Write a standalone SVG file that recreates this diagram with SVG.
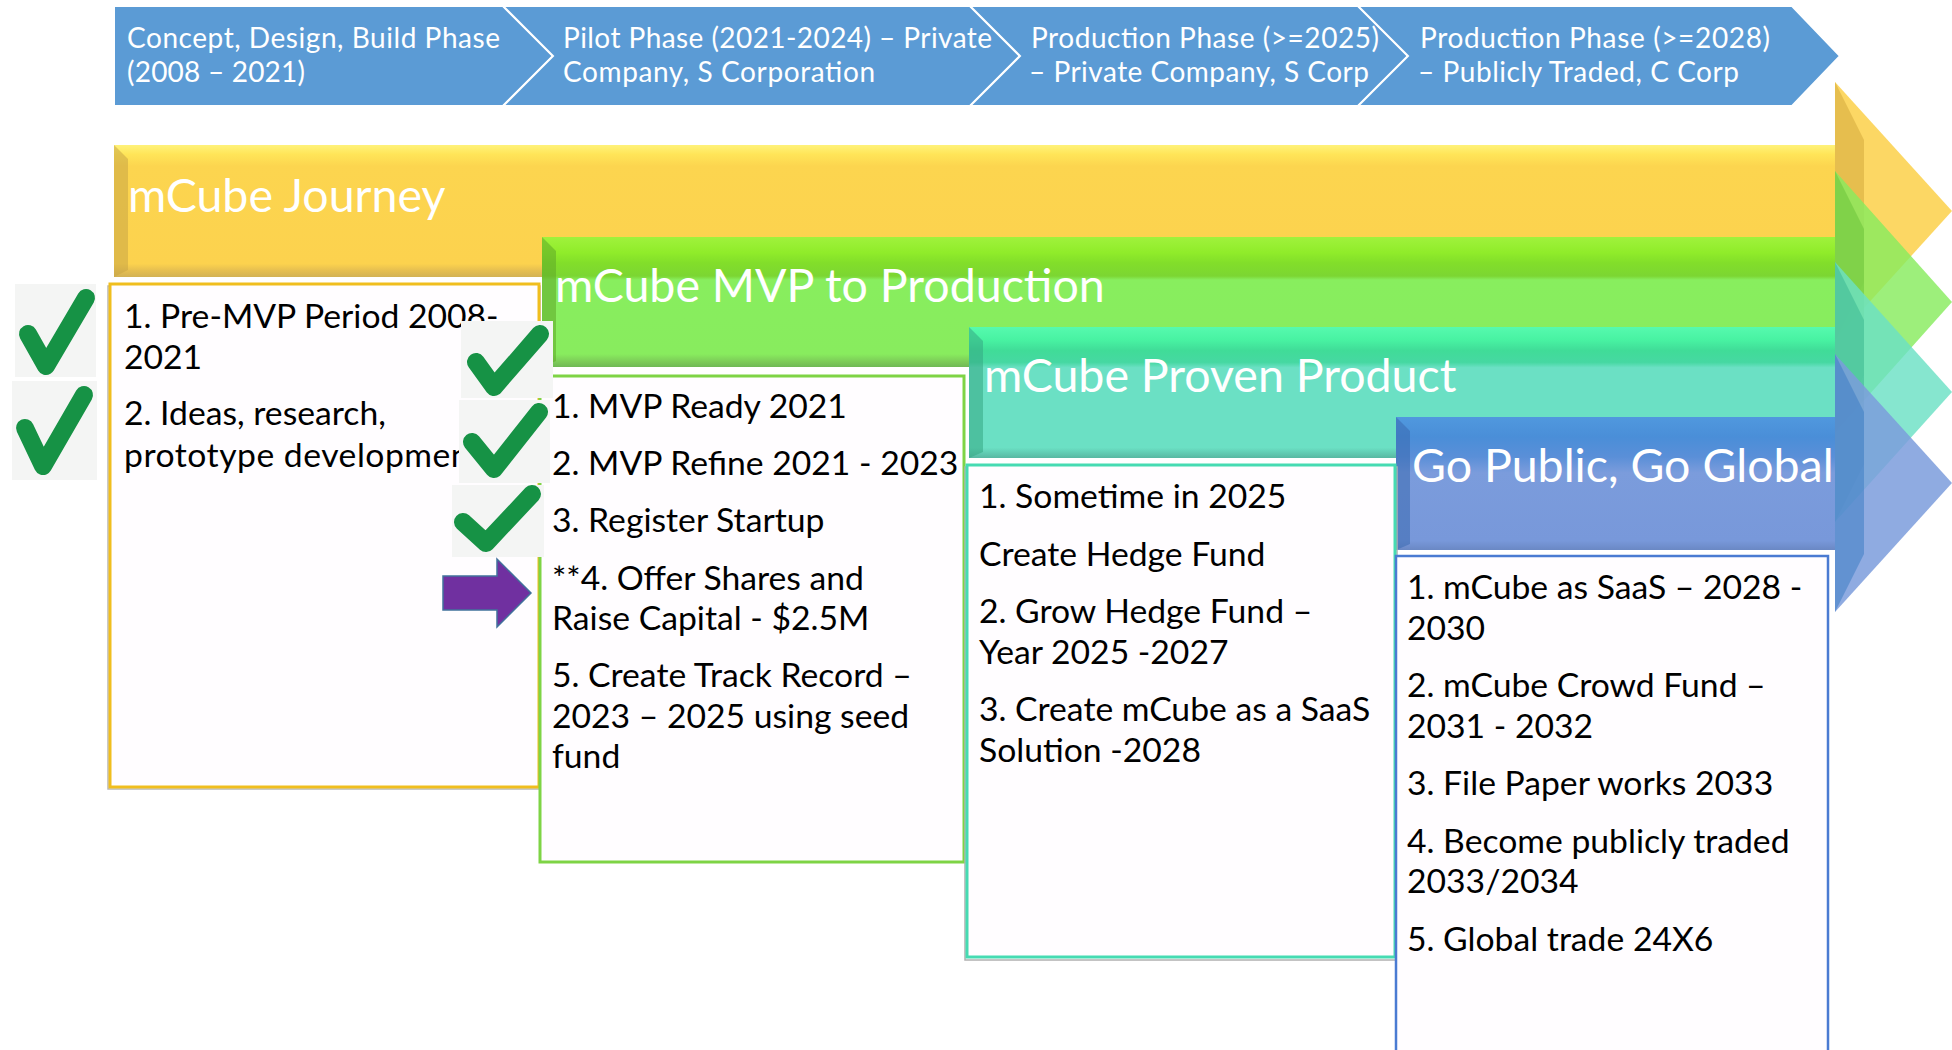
<svg xmlns="http://www.w3.org/2000/svg" width="1952" height="1050" viewBox="0 0 1952 1050">
<defs>
<style>
.hdr{font-family:Lato,"Liberation Sans",sans-serif;font-size:28px;fill:#ffffff}
.ttl{font-family:Lato,"Liberation Sans",sans-serif;font-size:46.5px;fill:#ffffff}
.body{font-family:Lato,"Liberation Sans",sans-serif;font-size:33.7px;fill:#000000}
.seg{fill:#5B9BD5;stroke:#ffffff;stroke-width:2;stroke-linejoin:miter}
.box{fill:#FFFDFF}
.chkbg{fill:#F4F5F4}
.chk{fill:none;stroke:#169245;stroke-width:18;stroke-linecap:round;stroke-linejoin:round}
.facet{opacity:0.55}
</style>
<linearGradient id="gY" x1="0" y1="0" x2="0" y2="1">
<stop offset="0" stop-color="#FFF27A"/><stop offset="0.07" stop-color="#FFE558"/><stop offset="0.16" stop-color="#FCD54F"/><stop offset="0.9" stop-color="#FCD24E"/><stop offset="0.95" stop-color="#E6BF50"/><stop offset="1" stop-color="#D2B255"/>
</linearGradient>
<linearGradient id="gG" x1="0" y1="0" x2="0" y2="1">
<stop offset="0" stop-color="#A0F23C"/><stop offset="0.12" stop-color="#90EC2A"/><stop offset="0.2" stop-color="#82DE2A"/><stop offset="0.3" stop-color="#7CD632"/><stop offset="0.33" stop-color="#88EE5E"/><stop offset="0.9" stop-color="#88EC5E"/><stop offset="0.96" stop-color="#7CCB58"/><stop offset="1" stop-color="#6FB955"/>
</linearGradient>
<linearGradient id="gT" x1="0" y1="0" x2="0" y2="1">
<stop offset="0" stop-color="#56FAAE"/><stop offset="0.1" stop-color="#48F2A2"/><stop offset="0.18" stop-color="#40DC98"/><stop offset="0.27" stop-color="#46D8A2"/><stop offset="0.31" stop-color="#6BE0C4"/><stop offset="0.92" stop-color="#6BE0C4"/><stop offset="1" stop-color="#58B8A2"/>
</linearGradient>
<linearGradient id="gB" x1="0" y1="0" x2="0" y2="1">
<stop offset="0" stop-color="#5098DE"/><stop offset="0.15" stop-color="#4A8ED8"/><stop offset="0.3" stop-color="#5A8FD8"/><stop offset="0.42" stop-color="#7B9CDC"/><stop offset="0.93" stop-color="#7898DA"/><stop offset="1" stop-color="#6A88C4"/>
</linearGradient>
</defs>
<rect width="1952" height="1050" fill="#ffffff"/>

<g id="phase-header">
<polygon class="seg" points="114,6 503,6 553,56 503,106 114,106"/>
<polygon class="seg" points="503,6 970,6 1020,56 970,106 503,106 553,56"/>
<polygon class="seg" points="970,6 1358,6 1408,56 1358,106 970,106 1020,56"/>
<polygon class="seg" points="1358,6 1792,6 1840,56 1792,106 1358,106 1408,56"/>
<text class="hdr" x="127" y="48" textLength="373">Concept, Design, Build Phase</text>
<text class="hdr" x="127" y="82" textLength="178">(2008 – 2021)</text>
<text class="hdr" x="563" y="48" textLength="429">Pilot Phase (2021-2024) – Private</text>
<text class="hdr" x="563" y="82" textLength="312">Company, S Corporation</text>
<text class="hdr" x="1031" y="48" textLength="348">Production Phase (&gt;=2025)</text>
<text class="hdr" x="1029" y="82" textLength="340">– Private Company, S Corp</text>
<text class="hdr" x="1420" y="48" textLength="350">Production Phase (&gt;=2028)</text>
<text class="hdr" x="1418" y="82" textLength="321">– Publicly Traded, C Corp</text>
</g>

<g id="arrow-journey">
<rect x="114" y="145" width="1721" height="132" fill="url(#gY)"/>
<polygon class="facet" points="114,145 128,159 128,270 114,277" fill="#C9A545"/>
<polygon points="1835,82 1952,211 1835,340" fill="#FCD24E" opacity="0.88"/>
<polygon class="facet" points="1835,82 1864,140 1864,282 1835,340" fill="#D4A93C"/>
<text class="ttl" x="128" y="212">mCube Journey</text>
</g>

<g id="arrow-mvp">
<rect x="542" y="237" width="1293" height="130" fill="url(#gG)"/>
<polygon class="facet" points="542,237 556,251 556,361 542,367" fill="#5FA828"/>
<polygon points="1835,171 1952,302 1835,433" fill="#88EC5E" opacity="0.82"/>
<polygon class="facet" points="1835,171 1864,229 1864,375 1835,433" fill="#6CC43A"/>
<text class="ttl" x="555" y="302">mCube MVP to Production</text>
</g>

<g id="arrow-proven">
<rect x="969" y="327" width="866" height="131" fill="url(#gT)"/>
<polygon class="facet" points="969,327 983,341 983,452 969,458" fill="#34A884"/>
<polygon points="1835,262 1952,392 1835,522" fill="#6BE0C4" opacity="0.82"/>
<polygon class="facet" points="1835,262 1864,320 1864,464 1835,522" fill="#3CB894"/>
<text class="ttl" x="984" y="392">mCube Proven Product</text>
</g>

<g id="arrow-public">
<rect x="1396" y="417" width="439" height="133" fill="url(#gB)"/>
<polygon class="facet" points="1396,417 1410,431 1410,544 1396,550" fill="#3A6AB0"/>
<polygon points="1835,354 1952,483 1835,612" fill="#7B9CDC" opacity="0.85"/>
<polygon class="facet" points="1835,354 1864,412 1864,554 1835,612" fill="#3E7EC4"/>
<text class="ttl" x="1412" y="482">Go Public, Go Global</text>
</g>

<g id="box-journey">
<rect x="108" y="286" width="432" height="503" fill="none" stroke="#B8B8B8" stroke-width="1.5"/>
<rect class="box" x="110" y="284" width="429" height="503" stroke="#F0BE1E" stroke-width="3"/>
<text class="body" x="124" y="328">1. Pre-MVP Period 2008-</text>
<text class="body" x="124" y="369">2021</text>
<text class="body" x="124" y="425">2. Ideas, research,</text>
<text class="body" x="124" y="467" textLength="358">prototype development</text>
</g>

<g id="box-mvp">
<rect class="box" x="540" y="376" width="424" height="486" stroke="#7ED445" stroke-width="3"/>
<text class="body" x="552" y="418">1. MVP Ready 2021</text>
<text class="body" x="552" y="475">2. MVP Refine 2021 - 2023</text>
<text class="body" x="552" y="532">3. Register Startup</text>
<text class="body" x="552" y="590">**4. Offer Shares and</text>
<text class="body" x="552" y="630">Raise Capital - $2.5M</text>
<text class="body" x="552" y="687">5. Create Track Record –</text>
<text class="body" x="552" y="728">2023 – 2025 using seed</text>
<text class="body" x="552" y="768">fund</text>
</g>

<g id="box-proven">
<rect x="965" y="467" width="432" height="493" fill="none" stroke="#B0B0B0" stroke-width="1.5"/>
<rect class="box" x="967" y="465" width="428" height="492" stroke="#46DBB2" stroke-width="3"/>
<text class="body" x="979" y="508">1. Sometime in 2025</text>
<text class="body" x="979" y="566">Create Hedge Fund</text>
<text class="body" x="979" y="623">2. Grow Hedge Fund –</text>
<text class="body" x="979" y="664">Year 2025 -2027</text>
<text class="body" x="979" y="721">3. Create mCube as a SaaS</text>
<text class="body" x="979" y="762">Solution -2028</text>
</g>

<g id="box-public">
<rect class="box" x="1396" y="556" width="432" height="510" stroke="#4A7BD2" stroke-width="2.5"/>
<text class="body" x="1407" y="599">1. mCube as SaaS – 2028 -</text>
<text class="body" x="1407" y="640">2030</text>
<text class="body" x="1407" y="697">2. mCube Crowd Fund –</text>
<text class="body" x="1407" y="738">2031 - 2032</text>
<text class="body" x="1407" y="795">3. File Paper works 2033</text>
<text class="body" x="1407" y="853">4. Become publicly traded</text>
<text class="body" x="1407" y="893">2033/2034</text>
<text class="body" x="1407" y="951">5. Global trade 24X6</text>
</g>

<g id="checks">
<rect class="chkbg" x="15" y="284" width="81" height="93"/>
<path class="chk" d="M28,334 L46,366 L86,298"/>
<rect class="chkbg" x="12" y="381" width="85" height="99"/>
<path class="chk" d="M25,428 L43,466 L84,395"/>
<rect class="chkbg" x="461" y="321" width="92" height="77"/>
<path class="chk" d="M476,362 L494,387 L540,334"/>
<rect class="chkbg" x="459" y="400" width="91" height="83"/>
<path class="chk" d="M472,442 L494,469 L539,412"/>
<rect class="chkbg" x="452" y="485" width="92" height="72"/>
<path class="chk" d="M463,522 L486,543 L532,494"/>
</g>

<g id="connectors">
<polygon points="443,576 497,576 497,559 531,593 497,627 497,610 443,610" fill="#7030A0" stroke="#41719C" stroke-width="1.5"/>
</g>
</svg>
